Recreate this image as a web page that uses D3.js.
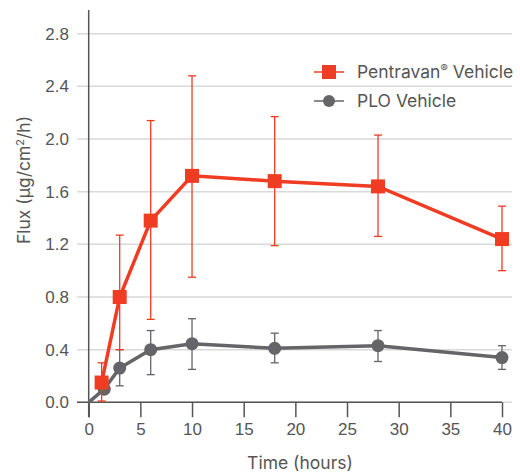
<!DOCTYPE html>
<html>
<head>
<meta charset="utf-8">
<script src="https://d3js.org/d3.v7.min.js"></script>
<style>
  body { margin: 0; background: #fff; }
  svg { font-family: Inter, "Noto Sans", sans-serif; }
  .tick text { fill: #555; font-size: 17px; font-weight: 500; }
  .axis-title { fill: #555; font-size: 17.5px; }
  .legend text { fill: #555; font-size: 17.5px; }
</style>
</head>
<body>
<script>
  // data
  var seriesNames = ["Pentravan® Vehicle", "PLO Vehicle"];
  var pentravanTime = [1.25, 3, 6, 10, 18, 28, 40];
  var pentravanFlux = [0.15, 0.80, 1.38, 1.72, 1.68, 1.64, 1.24];
  var pentravanLow  = [0.01, 0.40, 0.63, 0.95, 1.19, 1.26, 1.00];
  var pentravanHigh = [0.30, 1.27, 2.14, 2.48, 2.17, 2.03, 1.49];
  var ploTime = [0, 1.5, 3, 6, 10, 18, 28, 40];
  var ploFlux = [0, 0.10, 0.26, 0.40, 0.445, 0.41, 0.43, 0.34];
  var ploLow  = [null, null, 0.125, 0.21, 0.25, 0.30, 0.31, 0.25];
  var ploHigh = [null, null, 0.40, 0.545, 0.635, 0.525, 0.545, 0.43];
  var xTicks = [0, 5, 10, 15, 20, 25, 30, 35, 40];
  var yTicks = [0, 0.4, 0.8, 1.2, 1.6, 2.0, 2.4, 2.8];

  var W = 520, H = 472;
  var red = "#f03c23", grey = "#646469";

  var svg = d3.select("body").append("svg")
    .attr("width", W)
    .attr("height", H);

  var x = d3.scaleLinear().domain([0, 40]).range([88.7, 502]);
  var y = d3.scaleLinear().domain([0, 2.8]).range([402.3, 33.7]);

  // gridlines
  svg.append("g").selectAll("line")
    .data(yTicks)
    .enter().append("line")
    .attr("x1", 77).attr("x2", 512)
    .attr("y1", d => y(d)).attr("y2", d => y(d))
    .attr("stroke", "#d9d9d9")
    .attr("stroke-width", 1.5);

  // y axis labels
  var yAxis = svg.append("g")
    .attr("transform", "translate(77,0)")
    .call(d3.axisLeft(y).tickValues(yTicks).tickFormat(d3.format(".1f")).tickSize(0).tickPadding(8));
  yAxis.select(".domain").remove();

  // x axis
  var xAxis = svg.append("g")
    .attr("transform", "translate(0," + y(0) + ")")
    .call(d3.axisBottom(x).tickValues(xTicks).tickSize(15).tickPadding(6));
  xAxis.select(".domain").attr("d", "M77,0H502").attr("stroke", "#555").attr("stroke-width", 1.5);
  xAxis.selectAll(".tick line").attr("stroke", "#555").attr("stroke-width", 1.5);

  // y axis line
  svg.append("line")
    .attr("x1", x(0)).attr("x2", x(0))
    .attr("y1", 10).attr("y2", y(0) + 15)
    .attr("stroke", "#555").attr("stroke-width", 1.5);

  // titles
  svg.append("text").attr("class", "axis-title")
    .attr("transform", "translate(30,180) rotate(-90)")
    .attr("text-anchor", "middle")
    .html("Flux (µg/cm<tspan dy='-6' font-size='11'>2</tspan><tspan dy='6'>/h)</tspan>");
  svg.append("text").attr("class", "axis-title")
    .attr("x", 300).attr("y", 469)
    .attr("text-anchor", "middle")
    .text("Time (hours)");

  function errorBars(ts, lo, hi, color) {
    var g = svg.append("g").attr("stroke", color).attr("stroke-width", 1.3);
    ts.forEach(function(t, i) {
      if (lo[i] == null) return;
      var cx = x(t);
      g.append("line").attr("x1", cx).attr("x2", cx).attr("y1", y(lo[i])).attr("y2", y(hi[i]));
      g.append("line").attr("x1", cx - 4).attr("x2", cx + 4).attr("y1", y(lo[i])).attr("y2", y(lo[i]));
      g.append("line").attr("x1", cx - 4).attr("x2", cx + 4).attr("y1", y(hi[i])).attr("y2", y(hi[i]));
    });
  }

  var line = d3.line().x(d => x(d[0])).y(d => y(d[1]));

  // PLO
  errorBars(ploTime, ploLow, ploHigh, grey);
  var ploPts = ploTime.map((t, i) => [t, ploFlux[i]]);
  svg.append("path").datum(ploPts)
    .attr("d", line).attr("fill", "none")
    .attr("stroke", grey).attr("stroke-width", 3.5);
  svg.append("g").selectAll("circle")
    .data(ploPts.filter(d => d[0] > 0))
    .enter().append("circle")
    .attr("cx", d => x(d[0])).attr("cy", d => y(d[1]))
    .attr("r", 6.5).attr("fill", grey);

  // Pentravan
  errorBars(pentravanTime, pentravanLow, pentravanHigh, red);
  var penPts = pentravanTime.map((t, i) => [t, pentravanFlux[i]]);
  svg.append("path").datum(penPts)
    .attr("d", line).attr("fill", "none")
    .attr("stroke", red).attr("stroke-width", 3.5);
  svg.append("g").selectAll("rect")
    .data(penPts)
    .enter().append("rect")
    .attr("x", d => x(d[0]) - 7).attr("y", d => y(d[1]) - 7)
    .attr("width", 14).attr("height", 14)
    .attr("fill", red);

  // legend
  var legend = svg.append("g").attr("class", "legend");
  var items = [{name: seriesNames[0], color: red, shape: "square"},
               {name: seriesNames[1], color: grey, shape: "circle"}];
  items.forEach(function(it, i) {
    var ly = 72 + i * 29;
    var g = legend.append("g").attr("transform", "translate(0," + ly + ")");
    g.append("line").attr("x1", 314).attr("x2", 344).attr("y1", 0).attr("y2", 0)
      .attr("stroke", it.color).attr("stroke-width", 1.5);
    if (it.shape === "square") {
      g.append("rect").attr("x", 322).attr("y", -7).attr("width", 14).attr("height", 14).attr("fill", it.color);
    } else {
      g.append("circle").attr("cx", 329).attr("cy", 0).attr("r", 6).attr("fill", it.color);
    }
    var txt = g.append("text").attr("x", 357).attr("y", 6);
    if (i === 0) {
      txt.html("Pentravan<tspan dy='-6' font-size='11'>®</tspan><tspan dy='6'> Vehicle</tspan>");
    } else {
      txt.text(it.name);
    }
  });
</script>
</body>
</html>
